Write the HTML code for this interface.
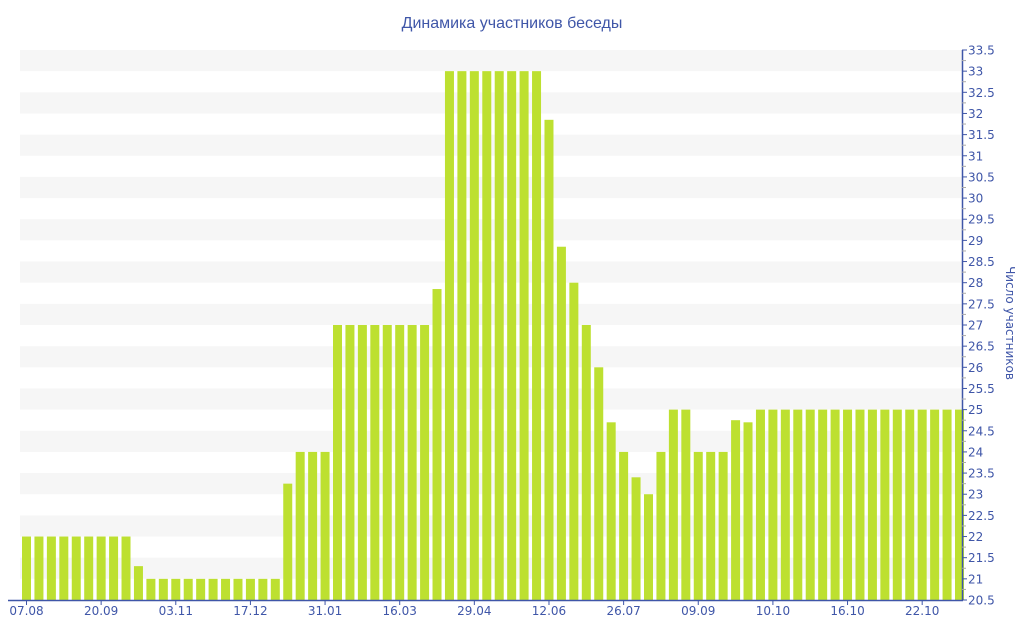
<!DOCTYPE html>
<html><head><meta charset="utf-8"><style>
html,body{margin:0;padding:0;background:#fff;}
svg{display:block;font-family:"DejaVu Sans","Liberation Sans",sans-serif;}
</style></head><body>
<svg id="c" width="1024" height="640" xmlns="http://www.w3.org/2000/svg">
<text x="512" y="28" text-anchor="middle" font-size="16" fill="#3f56a8" font-family="Liberation Sans, sans-serif">Динамика участников беседы</text>
<g id="stripes"></g><g id="bars"></g><g id="axes"></g>
<text transform="translate(1006,323) rotate(90)" text-anchor="middle" font-size="12" fill="#3f56a8">Число участников</text>
</svg>
<script>
var NS="http://www.w3.org/2000/svg";
function el(p,t,a,txt){var e=document.createElementNS(NS,t);for(var k in a)e.setAttribute(k,a[k]);if(txt!==undefined)e.textContent=txt;document.getElementById(p).appendChild(e);return e;}
function Y(v){return 600-(v-20.5)*(550/13);}
for(var k=21;k<=33;k++){var y1=Y(k+0.5),y2=Y(k);el("stripes","rect",{x:20,y:y1,width:942,height:y2-y1,fill:"#f6f6f6"});}
var vals=[];
for(var i=0;i<9;i++)vals.push(22);
vals.push(21.3);
for(i=0;i<11;i++)vals.push(21);
vals.push(23.25,24,24,24);
for(i=0;i<8;i++)vals.push(27);
vals.push(27.85);
for(i=0;i<8;i++)vals.push(33);
vals.push(31.85,28.85,28,27,26,24.7,24,23.4,23,24,25,25,24,24,24,24.75,24.7);
while(vals.length<76)vals.push(25);
var pitch=12.44;
vals.forEach(function(v,i){var x=22+pitch*i;el("bars","rect",{x:x.toFixed(2),y:Y(v).toFixed(2),width:9,height:(600-Y(v)).toFixed(2),fill:"#bde030"});});
el("axes","line",{x1:8,y1:600.5,x2:963,y2:600.5,stroke:"#3f56a8","stroke-width":1.5});
el("axes","line",{x1:962.5,y1:50,x2:962.5,y2:600,stroke:"#3f56a8","stroke-width":1.5});
var labs=["07.08","20.09","03.11","17.12","31.01","16.03","29.04","12.06","26.07","09.09","10.10","16.10","22.10"];
labs.forEach(function(l,j){var x=26.5+pitch*6*j;el("axes","line",{x1:x,y1:600,x2:x,y2:605,stroke:"#3f56a8"});el("axes","text",{x:x,y:615,"text-anchor":"middle","font-size":12,fill:"#3f56a8"},l);});
for(var v=20.5;v<=33.51;v+=0.5){var y=Y(v);el("axes","line",{x1:962,y1:y,x2:967,y2:y,stroke:"#3f56a8"});el("axes","text",{x:968,y:y+4.5,"font-size":12,fill:"#3f56a8"},(Math.round(v*10)/10).toString());
if(v<33.5){var ym=Y(v+0.25);el("axes","line",{x1:962,y1:ym,x2:966,y2:ym,stroke:"#aaa"});}}
</script>
</body></html>
